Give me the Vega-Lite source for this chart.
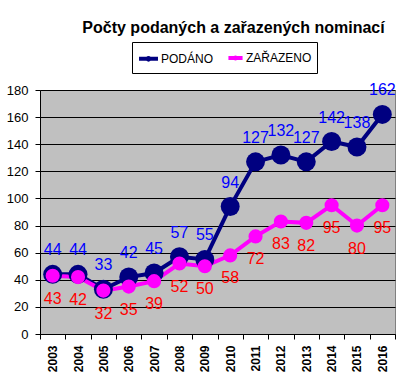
{
  "$schema": "https://vega.github.io/schema/vega-lite/v6.json",
  "width": 355,
  "height": 244,
  "autosize": "none",
  "padding": {"left": 40, "top": 90, "right": 14, "bottom": 44},
  "background": "white",
  "title": {
    "text": "Počty podaných a zařazených nominací",
    "font": "Liberation Sans",
    "fontSize": 16,
    "fontWeight": "bold",
    "color": "black",
    "anchor": "middle",
    "baseline": "alphabetic",
    "dx": 16,
    "offset": -7
  },
  "data": {
    "values": [
      {"year": "2003", "series": "PODÁNO", "value": 44},
      {"year": "2004", "series": "PODÁNO", "value": 44},
      {"year": "2005", "series": "PODÁNO", "value": 33},
      {"year": "2006", "series": "PODÁNO", "value": 42},
      {"year": "2007", "series": "PODÁNO", "value": 45},
      {"year": "2008", "series": "PODÁNO", "value": 57},
      {"year": "2009", "series": "PODÁNO", "value": 55},
      {"year": "2010", "series": "PODÁNO", "value": 94},
      {"year": "2011", "series": "PODÁNO", "value": 127},
      {"year": "2012", "series": "PODÁNO", "value": 132},
      {"year": "2013", "series": "PODÁNO", "value": 127},
      {"year": "2014", "series": "PODÁNO", "value": 142},
      {"year": "2015", "series": "PODÁNO", "value": 138},
      {"year": "2016", "series": "PODÁNO", "value": 162},
      {"year": "2003", "series": "ZAŘAZENO", "value": 43},
      {"year": "2004", "series": "ZAŘAZENO", "value": 42},
      {"year": "2005", "series": "ZAŘAZENO", "value": 32},
      {"year": "2006", "series": "ZAŘAZENO", "value": 35},
      {"year": "2007", "series": "ZAŘAZENO", "value": 39},
      {"year": "2008", "series": "ZAŘAZENO", "value": 52},
      {"year": "2009", "series": "ZAŘAZENO", "value": 50},
      {"year": "2010", "series": "ZAŘAZENO", "value": 58},
      {"year": "2011", "series": "ZAŘAZENO", "value": 72},
      {"year": "2012", "series": "ZAŘAZENO", "value": 83},
      {"year": "2013", "series": "ZAŘAZENO", "value": 82},
      {"year": "2014", "series": "ZAŘAZENO", "value": 95},
      {"year": "2015", "series": "ZAŘAZENO", "value": 80},
      {"year": "2016", "series": "ZAŘAZENO", "value": 95}
    ]
  },
  "encoding": {
    "x": {
      "field": "year",
      "type": "ordinal",
      "scale": {"type": "band", "paddingInner": 0, "paddingOuter": 0},
      "axis": {
        "title": null,
        "labelAngle": -90,
        "labelAlign": "right",
        "labelBaseline": "middle",
        "labelFont": "Liberation Sans",
        "labelFontSize": 12,
        "labelFontWeight": "bold",
        "labelColor": "black",
        "labelPadding": 6,
        "tickBand": "extent",
        "tickSize": 5,
        "tickColor": "black",
        "domainColor": "black",
        "grid": false
      }
    },
    "y": {
      "field": "value",
      "type": "quantitative",
      "scale": {"domain": [0, 180], "nice": false},
      "axis": {
        "title": null,
        "values": [0, 20, 40, 60, 80, 100, 120, 140, 160, 180],
        "labelFont": "Liberation Sans",
        "labelFontSize": 13,
        "labelColor": "black",
        "labelPadding": 7,
        "tickSize": 5,
        "tickColor": "black",
        "domainColor": "black",
        "grid": true,
        "gridColor": "black",
        "gridOpacity": 1
      }
    }
  },
  "layer": [
    {
      "mark": {"type": "line", "strokeWidth": 4},
      "encoding": {
        "color": {
          "field": "series",
          "type": "nominal",
          "scale": {"domain": ["PODÁNO", "ZAŘAZENO"], "range": ["#000080", "#FF00FF"]},
          "legend": {
            "title": null,
            "orient": "none",
            "legendX": 92,
            "legendY": -48,
            "direction": "horizontal",
            "symbolType": "M-1,0H1M-0.08,0A0.08,0.08 0 1,0 0.08,0A0.08,0.08 0 1,0 -0.08,0",
            "symbolStrokeWidth": 4,
            "symbolSize": 800,
            "labelFont": "Liberation Sans",
            "labelFontSize": 12,
            "labelColor": "black",
            "strokeColor": "black",
            "fillColor": "white",
            "padding": 5,
            "columnPadding": 6,
            "labelOffset": 1
          }
        }
      }
    },
    {
      "mark": {"type": "point", "filled": true, "opacity": 1, "shape": "circle", "strokeWidth": 0},
      "encoding": {
        "color": {"field": "series", "type": "nominal", "legend": null},
        "size": {
          "field": "series",
          "type": "nominal",
          "scale": {"domain": ["PODÁNO", "ZAŘAZENO"], "range": [360, 200]},
          "legend": null
        }
      }
    },
    {
      "transform": [{"filter": "datum.series === 'PODÁNO'"}],
      "mark": {"type": "text", "dy": -24, "font": "Liberation Sans", "fontSize": 16, "color": "#0000FF", "baseline": "middle"},
      "encoding": {"text": {"field": "value", "type": "quantitative"}}
    },
    {
      "transform": [{"filter": "datum.series === 'ZAŘAZENO'"}],
      "mark": {"type": "text", "dy": 23, "font": "Liberation Sans", "fontSize": 16, "color": "#FF0000", "baseline": "middle"},
      "encoding": {"text": {"field": "value", "type": "quantitative"}}
    }
  ],
  "config": {
    "view": {"fill": "#C0C0C0", "stroke": "#808080"},
    "font": "Liberation Sans"
  }
}
